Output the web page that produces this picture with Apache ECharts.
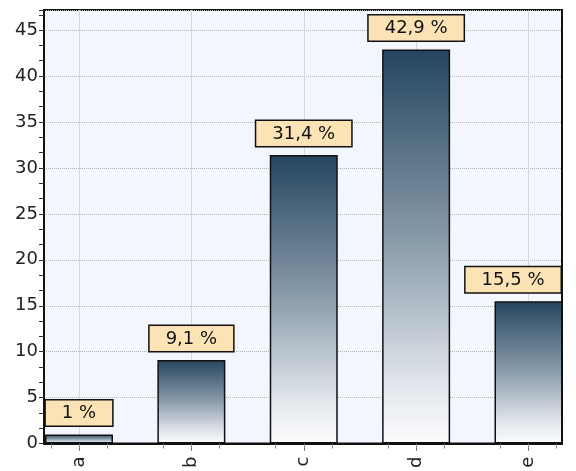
<!DOCTYPE html>
<html>
<head>
<meta charset="utf-8">
<script src="https://cdn.jsdelivr.net/npm/echarts@6/dist/echarts.min.js"></script>
<style>
html,body{margin:0;padding:0;background:#fff;}
#c{width:576px;height:471px;}
</style>
</head>
<body>
<div id="c"></div>
<script>
const categories = ['a', 'b', 'c', 'd', 'e'];
const values = [1, 9.1, 31.4, 42.9, 15.5];
const yTicks = [0, 5, 10, 15, 20, 25, 30, 35, 40, 45];

const idx = categories.map((_, i) => i);
const quarterTicks = [];
for (let i = 0; i < categories.length; i++) {
  for (let k = -1; k <= 1; k++) quarterTicks.push(i + k / 4);
}
const yMax = Math.max(...values) * 1.1;
const font = 'DejaVu Sans';
const plotRight = 576 - 14;

const chart = echarts.init(document.getElementById('c'), null, {renderer: 'canvas'});
chart.setOption({
  animation: false,
  backgroundColor: '#ffffff',
  grid: {
    left: 44, right: 14, top: 10, bottom: 25,
    show: true, backgroundColor: '#f4f6fd', borderColor: '#111', borderWidth: 2
  },
  xAxis: [{
    type: 'value', position: 'bottom',
    min: -0.3114, max: 4.298,
    axisLine: {show: true, onZero: false, lineStyle: {color: '#111', width: 2}},
    axisTick: {show: true, customValues: idx, length: 7, lineStyle: {color: '#555', width: 1}},
    axisLabel: {
      customValues: idx, rotate: 90, margin: 13,
      fontSize: 18, fontFamily: font, color: '#222',
      formatter: v => categories[Math.round(v)] || ''
    },
    splitLine: {show: true, lineStyle: {color: '#d4d8e0', width: 1, type: 'solid'}}
  }, {
    type: 'value', position: 'bottom',
    min: -0.3114, max: 4.298,
    axisLine: {show: false, onZero: false},
    axisTick: {show: true, customValues: quarterTicks, length: 5, lineStyle: {color: '#888', width: 1}},
    axisLabel: {show: false},
    splitLine: {show: false}
  }],
  yAxis: {
    type: 'value', min: 0, max: yMax, interval: 5,
    axisLine: {show: true, onZero: false, lineStyle: {color: '#111', width: 2}},
    axisTick: {show: true, length: 5, lineStyle: {color: '#333', width: 1}},
    minorTick: {show: true, splitNumber: 3, length: 5, lineStyle: {color: '#333', width: 1}},
    axisLabel: {
      fontSize: 18, fontFamily: font, color: '#222', margin: 6,
      formatter: v => (yTicks.indexOf(Math.round(v * 1000) / 1000) >= 0 ? String(v) : '')
    },
    splitLine: {show: true, lineStyle: {color: '#b4b4b4', width: 1, type: 'dotted'}}
  },
  series: [{
    type: 'bar',
    xAxisIndex: 0,
    barWidth: 68,
    data: values.map((v, i) => [i, v]),
    itemStyle: {
      borderColor: '#111', borderWidth: 1.5,
      color: new echarts.graphic.LinearGradient(0, 0, 0, 1, [
        {offset: 0, color: '#24455f'},
        {offset: 0.5, color: '#8c9eac'},
        {offset: 0.85, color: '#e2e6ec'},
        {offset: 1, color: '#fbfcfd'}
      ])
    },
    label: {
      show: true, position: 'top', distance: 9,
      fontSize: 18, fontFamily: font, color: '#111',
      backgroundColor: '#fce3b6', borderColor: '#111', borderWidth: 1.5,
      padding: [4, 16, 3, 16],
      formatter: p => String(p.value[1]).replace('.', ',') + ' %'
    },
    labelLayout: p => {
      const over = p.labelRect.x + p.labelRect.width - plotRight;
      return over > 0 ? {dx: -over} : {};
    }
  }]
});
</script>
</body>
</html>
